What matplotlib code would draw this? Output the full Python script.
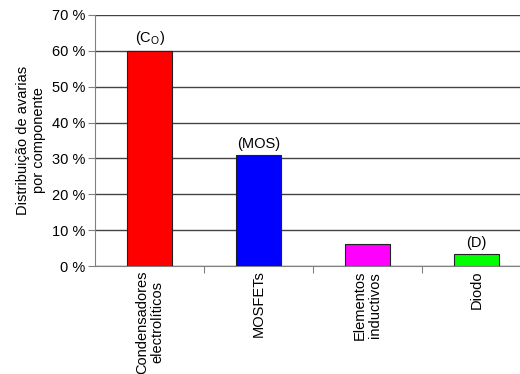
import matplotlib
matplotlib.use("Agg")
import matplotlib.pyplot as plt
import numpy as np

plt.rcParams['font.family'] = ['Liberation Sans', 'DejaVu Sans']

# Failure distribution per component (%)
componentes = ["Condensadores\nelectrolíticos", "MOSFETs", "Elementos\ninductivos", "Diodo"]
avarias = [60, 31, 6, 3.3]
rotulos = ["(C$_\\mathregular{O}$)", "(MOS)", "", "(D)"]
cores = ["#ff0000", "#0000ff", "#ff00ff", "#00ff00"]
yticks = [0, 10, 20, 30, 40, 50, 60, 70]

FS = 10.5

fig = plt.figure(figsize=(5.2, 3.74), dpi=100)
ax = fig.add_axes([95 / 520, 1 - 266 / 374, 436 / 520, 251 / 374])

x = np.arange(len(componentes))
ax.bar(x, avarias, width=0.41, color=cores, edgecolor="#222222", linewidth=0.8, zorder=3)
for xi, v, r in zip(x, avarias, rotulos):
    if r:
        ax.text(xi, v + 1.2, r, ha="center", va="bottom", fontsize=FS)

ax.set_xlim(-0.5, len(componentes) - 0.5)
ax.set_ylim(0, 70)
ax.set_yticks(yticks)
ax.set_yticklabels([f"{t} %" for t in yticks], fontsize=FS)
ax.yaxis.grid(True, color="#444444", linewidth=1.0, zorder=0)
ax.tick_params(axis="y", length=5, width=0.8, color="#808080", pad=2)

# category separators as x ticks; labels placed manually at centres
ax.set_xticks(np.arange(0.5, len(componentes) - 0.5, 1))
ax.set_xticklabels([])
ax.tick_params(axis="x", length=5, width=0.8, color="#808080")
for xi, nome in zip(x, componentes):
    ax.text(xi, -1.2, nome, rotation=90, ha="center", va="top",
            multialignment="center", fontsize=FS, linespacing=1.1)

for s in ["top", "right"]:
    ax.spines[s].set_visible(False)
ax.spines["left"].set_color("#808080")
ax.spines["bottom"].set_color("#808080")

fig.text(31 / 520, 1 - 140 / 374, "Distribuição de avarias\npor componente",
         rotation=90, ha="center", va="center", multialignment="center",
         fontsize=FS, linespacing=1.1)

fig.savefig("out.png", dpi=100)
